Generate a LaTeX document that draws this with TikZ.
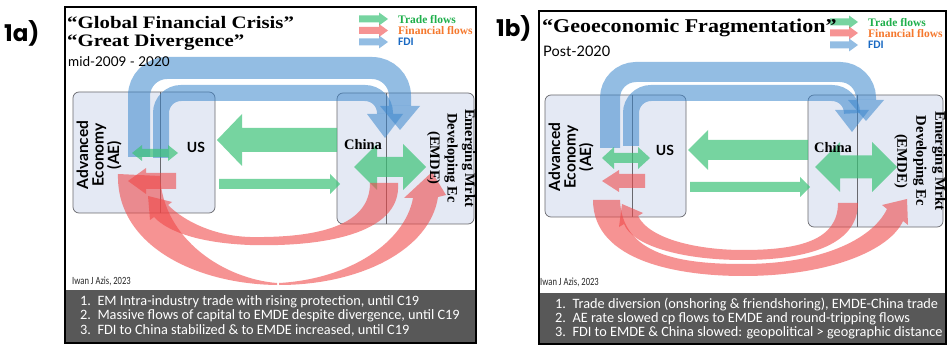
\documentclass[tikz,border=0pt]{standalone}
\usepackage{fontspec}
\setmainfont{Liberation Serif}
\newfontfamily\latofont{Lato}
\newfontfamily\carlito{Carlito}
\newfontfamily\condfont[FakeStretch=0.78]{Carlito}
\newfontfamily\popfont{Poppins}
\newfontfamily\titlefont[FakeStretch=1.13]{Liberation Serif}
\newfontfamily\titlefontA[FakeStretch=1.19]{Liberation Serif}
\definecolor{tradec}{RGB}{60,195,120}
\definecolor{finc}{RGB}{240,70,70}
\definecolor{fdic}{RGB}{60,135,205}
\definecolor{boxfill}{RGB}{228,233,244}
\definecolor{boxline}{RGB}{105,105,110}
\definecolor{notebg}{RGB}{88,88,88}
\definecolor{tradetxt}{RGB}{30,175,75}
\definecolor{fintxt}{RGB}{245,120,45}
\definecolor{fditxt}{RGB}{25,105,195}
\tikzset{
  frame/.style={draw=black, line width=1.3pt},
  ebox/.style={draw=boxline, fill=boxfill, line width=0.7pt, rounded corners=6pt},
  divline/.style={draw=boxline, line width=0.7pt},
  trade/.style={fill=tradec, fill opacity=0.7},
  fin/.style={fill=finc, fill opacity=0.58},
  fdiline/.style={draw=fdic, draw opacity=0.55},
  fdihead/.style={fill=fdic, fill opacity=0.55},
  notebox/.style={fill=notebg},
  txt/.style={inner sep=0pt, anchor=base west},
  panellab/.style={txt, font=\popfont\bfseries\fontsize{23}{23}\selectfont},
  titleA/.style={txt, align=left, font=\titlefontA\bfseries\fontsize{17.5}{17.5}\selectfont},
  titleB/.style={txt, font=\titlefont\bfseries\fontsize{19.5}{22}\selectfont},
  subt/.style={txt, font=\latofont\fontsize{13.5}{15}\selectfont},
  subtB/.style={txt, font=\latofont\fontsize{14.5}{16}\selectfont},
  legtrade/.style={txt, font=\bfseries\fontsize{11.5}{12}\selectfont, text=tradetxt},
  legfin/.style={txt, font=\bfseries\fontsize{11.5}{12}\selectfont, text=fintxt},
  legfdi/.style={txt, font=\carlito\bfseries\fontsize{11.5}{12}\selectfont, text=fditxt},
  aelab/.style={inner sep=0pt, align=center, font=\latofont\bfseries\fontsize{15.5}{15.5}\selectfont},
  uslab/.style={inner sep=0pt, font=\latofont\bfseries\fontsize{14}{14}\selectfont},
  chinalab/.style={inner sep=0pt, font=\bfseries\fontsize{14.5}{14.5}\selectfont},
  emlab/.style={inner sep=0pt, align=center, font=\bfseries\fontsize{14.5}{17.5}\selectfont},
  emlabB/.style={inner sep=0pt, align=center, font=\bfseries\fontsize{14.7}{19}\selectfont},
  credit/.style={txt, font=\condfont\fontsize{11}{11}\selectfont, text=black!85},
  note/.style={txt, font=\carlito\fontsize{14.3}{14.3}\selectfont, text=white},
}
% style, x start, x tip, y, shaft half, head half, head length (signed)
\newcommand\blkarrow[7]{%
  \fill[#1] (#2,{#4-#5}) -- ({#3-(#7)},{#4-#5}) -- ({#3-(#7)},{#4-#6}) -- (#3,#4)
    -- ({#3-(#7)},{#4+#6}) -- ({#3-(#7)},{#4+#5}) -- (#2,{#4+#5}) -- cycle;}
% style, x left tip, x right tip, y, shaft half, head half, head length
\newcommand\dblarrow[7]{%
  \fill[#1] (#2,#4) -- ({#2+#7},{#4-#6}) -- ({#2+#7},{#4-#5}) -- ({#3-#7},{#4-#5})
    -- ({#3-#7},{#4-#6}) -- (#3,#4) -- ({#3-#7},{#4+#6}) -- ({#3-#7},{#4+#5})
    -- ({#2+#7},{#4+#5}) -- ({#2+#7},{#4+#6}) -- cycle;}
% x left, y bottom, y top, x right, y head base, y tip, width, head half, radius
\newcommand\fdiarrow[9]{%
  \draw[fdiline, line width=#7pt, rounded corners=#9pt] (#1,#2) -- (#1,#3) -- (#4,#3) -- (#4,#5);
  \fill[fdihead] ({#4-#8},#5) -- ({#4+#8},#5) -- (#4,#6) -- cycle;}
\begin{document}
\begin{tikzpicture}[x=1pt,y=-1pt]
\useasboundingbox (0,0) rectangle (949,347);
\fill[white] (0,0) rectangle (949,347);

% ================= PANEL 1a =================
\node[panellab] (lab1a) at (4,42) {1a)};
\draw[frame] (65,7) rectangle (476,343);
\fill[notebox] (65.6,290) rectangle (475.4,342.4);

% boxes
\draw[ebox] (73,92) rectangle (215,213);
\draw[divline] (160,92) -- (160,213);
\draw[ebox] (337,93) rectangle (474,224);
\draw[divline] (386,93) -- (386,224);

% FDI
\fdiarrow{139}{157}{68}{400}{106}{130}{22}{20}{28}
\fdiarrow{161}{158}{93}{385}{114}{138}{16}{18}{20}

% Trade
\dblarrow{trade}{132}{178}{153}{4}{8}{10}
\blkarrow{trade}{337}{217}{140}{12}{26}{-25}
\blkarrow{trade}{219}{340}{184}{5}{10}{10}
\dblarrow{trade}{354}{426}{167}{10}{23}{23}

% Financial
\blkarrow{fin}{176}{128}{181}{8}{13}{-18}
\fill[fin] (118,174) -- (160,176) .. controls (163,240) and (225,279) .. (277,283)
  -- (277,285) .. controls (195,284) and (116,245) .. (118,174) -- cycle;
\fill[fin] (279,285) .. controls (360,285) and (430,250) .. (438,197) -- (446,195)
  -- (432,172) -- (404,198) -- (413,198) .. controls (405,242) and (350,279) .. (279,283) -- cycle;
\fill[fin] (398,183) .. controls (402,235) and (320,247) .. (250,245)
  .. controls (200,243) and (168,232) .. (154,217) -- (150,220) -- (148,196) -- (172,202)
  -- (168,205) .. controls (185,222) and (215,236) .. (250,237)
  .. controls (320,238) and (370,225) .. (370,183) -- cycle;

% legend
\blkarrow{trade}{359}{388}{19}{3.5}{6.5}{9}
\blkarrow{fin}{359}{388}{30.5}{3.5}{6.5}{9}
\blkarrow{fdihead}{359}{388}{42}{3.5}{6.5}{9}
\node[legtrade] (lt1a) at (398,24) {Trade flows};
\node[legfin] (lf1a) at (398,34.5) {Financial flows};
\node[legfdi] (ld1a) at (398,45.5) {FDI};

% texts
\node[titleA] (t1a) at (67,46.5) {“Global Financial Crisis”\\“Great Divergence”};
\node[subt] (s1a) at (68,67) {mid-2009 - 2020};
\node[aelab, rotate=90] (ae1a) at (99,155) {Advanced\\Economy\\(AE)};
\node[uslab] (us1a) at (196,147) {US};
\node[chinalab] (cn1a) at (363,145) {China};
\node[emlab, rotate=-90] (em1a) at (451,158) {Emerging Mrkt\\Developing Ec\\(EMDE)};
\node[credit] (cr1a) at (72,284.5) {Iwan J Azis, 2023};
\node[note] (n1a1) at (80,305) {1.\ \ EM Intra-industry trade with rising protection, until C19};
\node[note] (n1a2) at (80,319.5) {2.\ \ Massive flows of capital to EMDE despite divergence, until C19};
\node[note] (n1a3) at (80,334) {3.\ \ FDI to China stabilized \& to EMDE increased, until C19};

% ================= PANEL 1b =================
\node[panellab] (lab1b) at (496,37) {1b)};
\draw[frame] (539,11) rectangle (946,344);
\fill[notebox] (539.6,293) rectangle (945.4,343.4);

\draw[ebox] (545,95) rectangle (686,217);
\draw[divline] (632,95) -- (632,217);
\draw[ebox] (808,95) rectangle (943,227);
\draw[divline] (857,95) -- (857,227);

% FDI
\fdiarrow{610}{148}{72}{866}{100}{121}{20}{18}{26}
\fdiarrow{631}{146}{93}{852}{110}{132}{16}{17}{20}

% Trade
\dblarrow{trade}{602}{650}{158}{5}{11}{12}
\blkarrow{trade}{808}{688}{150}{10}{20}{-20}
\blkarrow{trade}{690}{810}{187}{5}{10}{10}
\dblarrow{trade}{815}{897}{167}{11.5}{25}{25}

% Financial
\blkarrow{fin}{645}{602}{181}{7}{11}{-17}
\fill[fin] (593,200) .. controls (593,262) and (680,276) .. (743,276)
  .. controls (830,276) and (890,250) .. (903,221) -- (908,225) -- (907,199) -- (882,205)
  -- (887,209) .. controls (872,240) and (820,264) .. (743,264)
  .. controls (680,264) and (622,255) .. (620,200) -- cycle;
\fill[fin] (858,203) .. controls (858,248) and (800,260) .. (743,260)
  .. controls (680,260) and (632,245) .. (624,224) -- (619,227) -- (622,204) -- (643,213)
  -- (638,216) .. controls (650,240) and (700,250) .. (743,250)
  .. controls (800,250) and (838,240) .. (838,203) -- cycle;

% legend
\blkarrow{trade}{830}{858}{22}{3.5}{6.5}{9}
\blkarrow{fin}{830}{858}{33}{3.5}{6.5}{9}
\blkarrow{fdihead}{830}{858}{45}{3.5}{6.5}{9}
\node[legtrade] (lt1b) at (868,26.5) {Trade flows};
\node[legfin] (lf1b) at (868,37.5) {Financial flows};
\node[legfdi] (ld1b) at (868,48.5) {FDI};

\node[titleB] (t1b) at (542,33) {“Geoeconomic Fragmentation”};
\node[subtB] (s1b) at (543,57) {Post-2020};
\node[aelab, rotate=90] (ae1b) at (571,157) {Advanced\\Economy\\(AE)};
\node[uslab] (us1b) at (665,150) {US};
\node[chinalab] (cn1b) at (833,148) {China};
\node[emlabB, rotate=-90] (em1b) at (920,161) {Emerging Mrkt\\Developing Ec\\(EMDE)};
\node[credit] (cr1b) at (540,285.5) {Iwan J Azis, 2023};
\node[note] (n1b1) at (555,308) {1.\ \ Trade diversion (onshoring \& friendshoring), EMDE-China trade};
\node[note] (n1b2) at (555,322) {2.\ \ AE rate slowed cp flows to EMDE and round-tripping flows};
\node[note] (n1b3) at (555,336) {3.\ \ FDI to EMDE \& China slowed: geopolitical > geographic distance};
\end{tikzpicture}
\end{document}
